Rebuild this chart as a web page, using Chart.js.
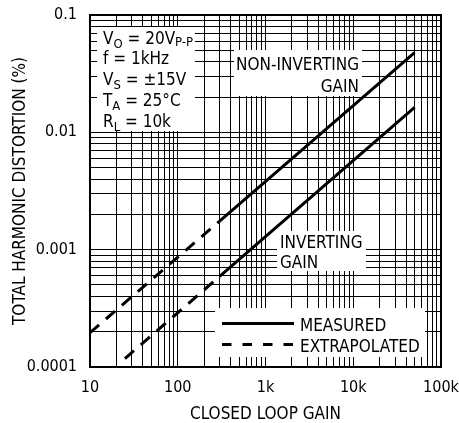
<!DOCTYPE html>
<html>
<head>
<meta charset="utf-8">
<script src="https://cdn.jsdelivr.net/npm/chart.js@4/dist/chart.umd.min.js"></script>
<style>
  html, body { margin: 0; padding: 0; background: #fff; }
  #wrap { width: 459px; height: 423px; }
</style>
</head>
<body>
<div id="wrap"><canvas id="thd-gain"></canvas></div>
<script>
const FONT = "'DejaVu Sans Condensed', 'DejaVu Sans', sans-serif";

// THD (%) vs closed loop gain
const nonInvExtrapGain = [10, 300];
const nonInvExtrapThd = [0.000196, 0.00175];
const nonInvMeasuredGain = [300, 50000];
const nonInvMeasuredThd = [0.00175, 0.0477];
const invExtrapGain = [25, 300];
const invExtrapThd = [0.000118, 0.000592];
const invMeasuredGain = [300, 50000];
const invMeasuredThd = [0.000592, 0.0163];

const xTickLabels = ['10', '100', '1k', '10k', '100k'];
const yTickLabels = ['0.0001', '0.001', '0.01', '0.1'];

// test conditions; second item of a run = subscript
const conditions = [
  [['V'], ['O', 1], [' = 20V'], ['P-P', 2]],
  [['f = 1kHz']],
  [['V'], ['S', 1], [' = ±15V']],
  [['T'], ['A', 1], [' = 25°C']],
  [['R'], ['L', 1], [' = 10k']]
];

function pts(xs, ys) {
  return xs.map((g, i) => ({x: g, y: ys[i]}));
}

// 1..9 per decade, for the grid
function logGrid(lo, hi) {
  const out = [];
  for (let d = lo; d < hi * 0.99; d *= 10) {
    for (let m = 1; m < 10; m++) out.push(m * d);
  }
  out.push(hi);
  return out;
}

const frameAndNotes = {
  id: 'frameAndNotes',
  beforeDatasetsDraw(chart) {
    const ctx = chart.ctx;
    const {left: L, top: T} = chart.chartArea;
    ctx.save();
    ctx.fillStyle = '#fff';
    ctx.fillRect(L + 7, T + 12, 98, 104);    // conditions
    ctx.fillRect(L + 144, T + 35, 128, 46);  // non-inverting label
    ctx.fillRect(L + 187, T + 216, 89, 40);  // inverting label
    ctx.fillRect(L + 125, T + 293, 210, 49); // legend

    ctx.fillStyle = '#000';
    ctx.textBaseline = 'alphabetic';
    conditions.forEach((line, i) => {
      let cx = L + 13;
      const by = T + 28.5 + i * 20.8;
      line.forEach(([txt, sub]) => {
        ctx.font = sub ? '13px ' + FONT : '17px ' + FONT;
        const dy = sub === 1 ? 4 : sub === 2 ? 2 : 0;
        ctx.fillText(txt, cx, by + dy);
        cx += ctx.measureText(txt).width;
      });
    });

    ctx.font = '17px ' + FONT;
    ctx.textAlign = 'left';
    ctx.fillText('NON-INVERTING', L + 146, T + 55);
    ctx.textAlign = 'right';
    ctx.fillText('GAIN', L + 269, T + 77);
    ctx.textAlign = 'left';
    ctx.fillText('INVERTING', L + 190, T + 233);
    ctx.fillText('GAIN', L + 190, T + 253);

    // legend
    ctx.fillText('MEASURED', L + 210, T + 316);
    ctx.fillText('EXTRAPOLATED', L + 210, T + 337);
    ctx.strokeStyle = '#000';
    ctx.lineWidth = 3;
    ctx.beginPath();
    ctx.moveTo(L + 132, T + 308.5);
    ctx.lineTo(L + 204, T + 308.5);
    ctx.stroke();
    ctx.setLineDash([9.5, 11]);
    ctx.beginPath();
    ctx.moveTo(L + 132, T + 329.5);
    ctx.lineTo(L + 204, T + 329.5);
    ctx.stroke();
    ctx.restore();
  },
  afterDatasetsDraw(chart) {
    const {ctx, chartArea: a} = chart;
    ctx.save();
    ctx.strokeStyle = '#000';
    ctx.lineWidth = 2;
    ctx.strokeRect(a.left, a.top, a.right - a.left, a.bottom - a.top);
    ctx.restore();
  }
};

const solid = {borderColor: '#000', borderWidth: 3, pointRadius: 0, fill: false, tension: 0};
const dashed = Object.assign({}, solid, {borderDash: [12, 9]});

new Chart(document.getElementById('thd-gain'), {
  type: 'line',
  data: {
    datasets: [
      Object.assign({label: 'Non-inverting (measured)', data: pts(nonInvMeasuredGain, nonInvMeasuredThd)}, solid),
      Object.assign({label: 'Non-inverting (extrapolated)', data: pts(nonInvExtrapGain, nonInvExtrapThd)}, dashed),
      Object.assign({label: 'Inverting (measured)', data: pts(invMeasuredGain, invMeasuredThd)}, solid),
      Object.assign({label: 'Inverting (extrapolated)', data: pts(invExtrapGain, invExtrapThd)}, dashed)
    ]
  },
  options: {
    responsive: true,
    maintainAspectRatio: false,
    animation: false,
    layout: { padding: {left: 0, right: 18, top: 15, bottom: 0} },
    plugins: { legend: {display: false}, tooltip: {enabled: false} },
    scales: {
      x: {
        type: 'logarithmic',
        min: 10,
        max: 100000,
        afterBuildTicks: (s) => { s.ticks = logGrid(10, 100000).map(v => ({value: v})); },
        afterFit: (s) => { s.height = 56; s.paddingLeft = 0; s.paddingRight = 0; },
        grid: { color: '#000', lineWidth: 1, drawTicks: false },
        border: { display: true, color: '#000', width: 2 },
        ticks: {
          autoSkip: false,
          maxRotation: 0,
          padding: 11,
          color: '#000',
          font: {family: FONT, size: 16},
          callback: (v, i) => (i % 9 === 0 ? xTickLabels[i / 9] : '')
        },
        title: {
          display: true,
          text: 'CLOSED LOOP GAIN',
          color: '#000',
          font: {family: FONT, size: 17, lineHeight: 1},
          padding: {top: 0, bottom: 0}
        }
      },
      y: {
        type: 'logarithmic',
        min: 0.0001,
        max: 0.1,
        afterBuildTicks: (s) => { s.ticks = logGrid(0.0001, 0.1).map(v => ({value: v})); },
        afterFit: (s) => { s.width = 90; s.paddingTop = 0; s.paddingBottom = 0; },
        grid: { color: '#000', lineWidth: 1, drawTicks: false },
        border: { display: true, color: '#000', width: 2 },
        ticks: {
          autoSkip: false,
          padding: 13,
          color: '#000',
          font: {family: FONT, size: 16},
          callback: (v, i) => (i % 9 === 0 ? yTickLabels[i / 9] : '')
        },
        title: {
          display: true,
          text: 'TOTAL HARMONIC DISTORTION (%)',
          color: '#000',
          font: {family: FONT, size: 17, lineHeight: 1},
          padding: {top: 12, bottom: 0}
        }
      }
    }
  },
  plugins: [frameAndNotes]
});
</script>
</body>
</html>
